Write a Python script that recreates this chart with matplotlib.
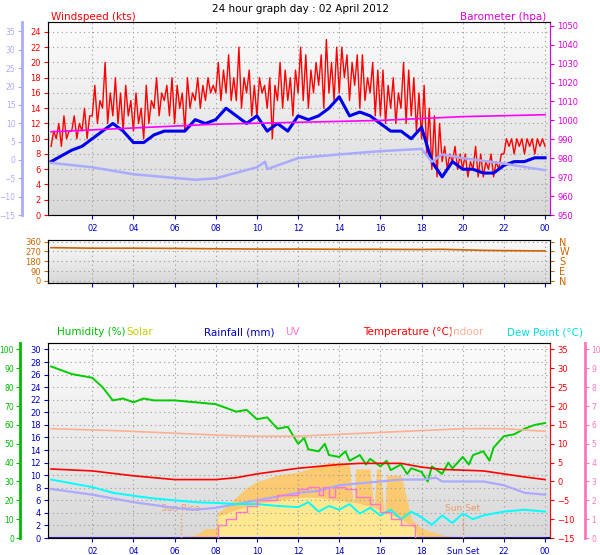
import matplotlib
matplotlib.use("Agg")
import matplotlib.pyplot as plt
import numpy as np
from matplotlib.colors import LinearSegmentedColormap

plt.rcParams['font.family'] = ['DejaVu Sans']
plt.rcParams['font.size'] = 6.5

# ---------------- data ----------------
gust = [9,11,10,12,9,13,10,11,  11,13,10,12,11,14,10,13,  13,17,12,15,14,20,12,16,
        13,18,12,16,11,17,13,15,  11,16,12,14,10,17,12,15,  14,18,13,16,15,17,13,18,
        12,17,14,16,11,18,14,16,  15,18,14,17,15,18,16,17,  16,20,15,19,16,21,15,18,
        15,22,14,18,16,19,13,17,  13,18,16,17,14,18,10,17,  15,20,14,19,15,18,13,19,
        16,22,15,21,14,19,16,20,  17,21,14,23,16,20,15,22,  16,22,18,21,15,20,17,21,
        14,21,15,18,16,20,13,19,  13,19,12,17,14,18,12,16,  14,20,12,19,13,18,11,16,
        10,17,8,14,6,13,5,12,  7,9,6,8,7,9,6,8,  6,8,5,7,6,9,5,8,
        5,7,6,8,5,7,6,8,  8,10,9,10,8,10,9,10,  8,10,9,10,8,10,9,10, 9]
gust_t = [i * 0.125 for i in range(len(gust))]

wind_t = [0,1,1.5,2,2.5,3,3.5,4,4.5,5,5.5,6,6.5,7,7.5,8,8.5,9,9.5,10,10.5,11,11.5,12,12.5,13,13.5,
          14,14.5,15,15.5,16,16.5,17,17.5,18,18.5,19,19.5,20,20.5,21,21.5,22,22.5,23,23.5,24]
wind = [7,8.5,9,10,11,12,11,9.5,9.5,10.5,11,11,11,12.5,12,12.5,14,13,12,13,11,12,11,13,12.5,13,14,
        15.5,13,13.5,13,12,11,11,10,11.5,7,5,7,6,6,5.5,5.5,6.5,7,7,7.5,7.5]

baro_t = [0,4,8,12,16,18,20,24]
baro = [994,996,998,999,1000,1001,1002,1003]

chill_t = [0,2,4,7,8,10,10.4,10.5,12,14,16,18,18.5,19,20,22,24]
chill = [-0.8,-2,-3.9,-5.4,-5,-2,-0.5,-2.5,0.5,1.5,2.4,3,-0.5,1.5,0.5,-1,-2.8]

dir_t = [0,2,4,6,8,10,12,14,16,18,19,20,21,22,24]
wdir = [305,300,300,298,295,292,292,290,290,288,290,285,280,278,275]

hum_t = [0,1,1.5,2,2.5,3,3.5,4,4.5,5,6,7,8,8.5,9,9.5,10,10.5,11,11.5,12,12.3,12.5,13,13.3,13.5,14,14.3,
         14.5,15,15.3,15.5,16,16.3,16.5,17,17.3,17.5,18,18.3,18.5,19,19.3,19.5,20,20.3,20.5,21,21.3,
         21.5,22,22.5,23,23.5,24]
hum = [91,87,86,85,80,73,74,72,74,73,73,72,71,69,67,68,63,64,58,59,50,53,47,46,50,44,43,46,
       41,44,39,42,38,41,36,39,34,37,35,30,38,34,40,37,43,39,44,46,41,48,54,55,58,60,61]

indoor_t = [0,3,6,8,10,12,14,16,18,20,22,24]
indoor = [14,13.5,12.8,12.3,12,12,12.5,13,13.5,14,14,13.3]

temp_t = [0,2,4,6,7,8,9,10,12,14,15,17,18,19,20,21,22,23,24]
temp = [3.3,2.8,1.5,0.5,0.5,0.5,1,2,3.5,4.5,4.8,4.8,3.8,3.2,3,2.8,2,1.2,0.5]

dew_t = [0,1,2,3,4,5,6,7,8,9,10,11,12,12.5,13,13.5,14,14.5,15,15.5,16,16.5,17,17.5,18,18.5,19,
         19.5,20,20.5,21,22,23,24]
dew = [0.5,-0.5,-1.5,-3,-3.8,-4.5,-5,-5.5,-5.7,-6,-6,-6.5,-6.8,-5.5,-8,-6.5,-7.5,-6,-8.5,-7,
       -9,-7.5,-10,-8,-9.5,-11.5,-9,-11,-8.5,-10,-9,-8,-7.5,-8]

app_t = [0,2,4,6,7,8,9,10,11,12,13,14,15,16,17,18,18.7,19,20,21,22,23,24]
app = [-2,-3.5,-5.5,-7,-7.5,-7,-6,-5,-4,-3,-2.5,-1,-0.5,0,0.5,0.5,1,0,0,0,-1,-3,-3.5]

solar_t = [6.3,7,7.5,8,8.1,8.5,9,9.5,10,11,12,13,13.5,14,14.5,14.7,14.8,15,15.5,15.7,15.8,16,16.2,16.3,
           16.5,17,17.3,17.5,18,18.5,19,20]
solar = [0.2,0.5,1.5,1.5,4,5,6.5,8,9,10,10.5,11.5,12,12,11.5,5,11,11,11,4,11,11,3,10,10,10,6,3,1.5,1,0.5,0]
solar2_t = [8.1,9,10,11,12,13,14,15,16,17,17.7,17.8]
solar2 = [3.5,4.5,5.5,6,6.5,6.5,6,5.5,4.5,3,1.5,0]

uv_t = [0,8.1,8.5,9,9.5,10,11,12,12.5,13,13.2,13.5,13.8,14.3,14.8,15.5,16,16.5,17,17.7,24]
uv = [0,0.7,1,1.4,1.7,2.0,2.3,2.6,2.7,2.3,2.7,2.2,2.7,2.6,2.2,1.8,1.4,1.0,0.7,0,0]

sunrise, sunset = 6.3, 20.0

xticks = [2,4,6,8,10,12,14,16,18,20,22,24]
xlabels_top = ['02','04','06','08','10','12','14','16','18','20','22','00']
xlabels_bot = ['02','04','06','08','10','12','14','16','18','Sun Set','22','00']

# ---------------- figure ----------------
fig = plt.figure(figsize=(6.0, 5.55), dpi=100)
XL = (-0.15, 24.25)
grad = np.linspace(1, 0, 256).reshape(-1, 1)
cmap = LinearSegmentedColormap.from_list('g', ['#d8d8d8', '#fcfcfc'])
LS = 6
LO = 5.5

def base(ax):
    ax.set_xlim(*XL)
    ax.imshow(grad, aspect='auto', cmap=cmap, extent=[XL[0], XL[1], *ax.get_ylim()], zorder=0,
              origin='upper')
    ax.set_xticks(xticks)
    ax.grid(True, color='#999999', linestyle=(0, (1, 3)), linewidth=0.8)
    for s in ax.spines.values():
        s.set_color('#888888')
    ax.tick_params(axis='x', colors='#0000cc', length=3, labelsize=LS)

# ---- top panel
ax1 = fig.add_axes([0.08, 0.6126, 0.837, 0.3477])
ax1.set_ylim(0, 25.3)
base(ax1)
ax1.set_xticklabels(xlabels_top)
ax1.set_yticks(range(0, 25, 2))
ax1.tick_params(axis='y', colors='red', labelsize=LS, length=3, pad=2)
ax1.plot(gust_t, gust, color='red', lw=1.0, zorder=3)
ax1.plot(wind_t, wind, color='#0000ee', lw=2.2, zorder=4)
axl = ax1.twinx()
axl.yaxis.tick_left()
axl.spines['left'].set_position(('outward', 19))
axl.spines['left'].set_color('#aaaaff'); axl.spines['left'].set_linewidth(2)
for k in ('right', 'top', 'bottom'):
    axl.spines[k].set_visible(False)
axl.set_ylim(-15, 35 + 1.3 * 50 / 25.3)
axl.set_yticks(range(-15, 36, 5))
axl.tick_params(axis='y', colors='#aaaaff', labelsize=LO, length=3, pad=1.5)
axl.plot(chill_t, chill, color='#aaaaff', lw=1.8, zorder=3)
axr = ax1.twinx()
axr.set_ylim(950, 1052)
axr.set_yticks(range(950, 1051, 10))
axr.tick_params(axis='y', colors='#dd00dd', labelsize=LS, length=3, pad=2)
axr.spines['right'].set_color('#dd00dd')
axr.plot(baro_t, baro, color='#ff00ff', lw=1.2)
fig.text(0.5, 0.992, '24 hour graph day : 02 April 2012', ha='center', va='top', fontsize=7.5)
fig.text(0.085, 0.978, 'Windspeed (kts)', color='red', ha='left', va='top', fontsize=7.5)
fig.text(0.91, 0.978, 'Barometer (hpa)', color='#dd00dd', ha='right', va='top', fontsize=7.5)

# ---- middle panel
ax2 = fig.add_axes([0.08, 0.490, 0.837, 0.0775])
ax2.set_ylim(-20, 375)
base(ax2)
ax2.set_xticklabels([])
ax2.set_yticks([0, 90, 180, 270, 360])
ax2.tick_params(axis='y', colors='#cc6600', labelsize=LS, length=3, pad=2)
ax2.plot(dir_t, wdir, color='#cc6600', lw=1.2)
ax2r = ax2.twinx()
ax2r.set_ylim(-20, 375)
ax2r.set_yticks([0, 90, 180, 270, 360])
ax2r.set_yticklabels(['N', 'E', 'S', 'W', 'N'])
ax2r.tick_params(axis='y', colors='#cc6600', labelsize=7, length=3)

# ---- bottom panel
ax3 = fig.add_axes([0.08, 0.0306, 0.837, 0.351])
ax3.set_ylim(0, 31)
base(ax3)
ax3.set_xticklabels(xlabels_bot)
ax3.set_yticks(range(0, 31, 2))
ax3.tick_params(axis='y', colors='#0000cc', labelsize=LS, length=3, pad=2)
ax3.fill_between(solar_t, solar, color='#ffc864', alpha=0.9, lw=0, zorder=1)
ax3.fill_between(solar2_t, solar2, color='#ffe890', lw=0, zorder=1)
ax3.axhline(0, color='#000099', lw=1.5, zorder=5)
ax3.plot([sunrise, sunrise], [0, 3.8], color='#ee9966', lw=1, ls=':', zorder=5)
ax3.plot([sunset, sunset], [0, 3.8], color='#ee9966', lw=1, ls=':', zorder=5)
ax3.text(sunrise, 4.0, 'Sun Rise', color='#ee9966', ha='center', va='bottom', fontsize=6.5)
ax3.text(sunset, 4.0, 'Sun Set', color='#ee9966', ha='center', va='bottom', fontsize=6.5)

ah = ax3.twinx()
ah.yaxis.tick_left()
ah.spines['left'].set_position(('outward', 20))
ah.spines['left'].set_color('#00bb00'); ah.spines['left'].set_linewidth(2)
for k in ('right', 'top', 'bottom'):
    ah.spines[k].set_visible(False)
ah.set_ylim(0, 31 * 100 / 30)
ah.set_yticks(range(0, 101, 10))
ah.tick_params(axis='y', colors='#00bb00', labelsize=LO, length=3, pad=1.5)
ah.plot(hum_t, hum, color='#00cc00', lw=1.4, zorder=4)

at = ax3.twinx()
at.set_ylim(-15, -15 + 31 * 50 / 30)
at.set_yticks(range(-15, 36, 5))
at.tick_params(axis='y', colors='red', labelsize=LS, length=3, pad=2)
at.spines['right'].set_color('red')
at.plot(indoor_t, indoor, color='#ffb090', lw=1.2)
at.plot(temp_t, temp, color='red', lw=1.2)
at.plot(app_t, app, color='#aaaaff', lw=1.6)
at.plot(dew_t, dew, color='#00ffff', lw=1.4)

au = ax3.twinx()
au.spines['right'].set_position(('outward', 25))
au.spines['right'].set_color('#ff77bb'); au.spines['right'].set_linewidth(2)
for k in ('left', 'top', 'bottom'):
    au.spines[k].set_visible(False)
au.set_ylim(0, 31 / 3)
au.set_yticks(range(0, 11))
au.tick_params(axis='y', colors='#ff77bb', labelsize=LO, length=3, pad=1.5)
au.plot(uv_t, uv, color='#ff77cc', lw=1.0, drawstyle='steps-post')

ty = 0.392
for x, s, c in [(0.095, 'Humidity (%)', '#00bb00'), (0.21, 'Solar', '#cccc00'),
                (0.34, 'Rainfall (mm)', '#0000cc'), (0.475, 'UV', '#ff77cc'),
                (0.605, 'Temperature (°C)', 'red'), (0.75, 'Indoor', '#ffb090'),
                (0.845, 'Dew Point (°C)', '#00dddd')]:
    fig.text(x, ty, s, color=c, fontsize=7.5, ha='left', va='bottom')

fig.savefig('out.png', dpi=100)
